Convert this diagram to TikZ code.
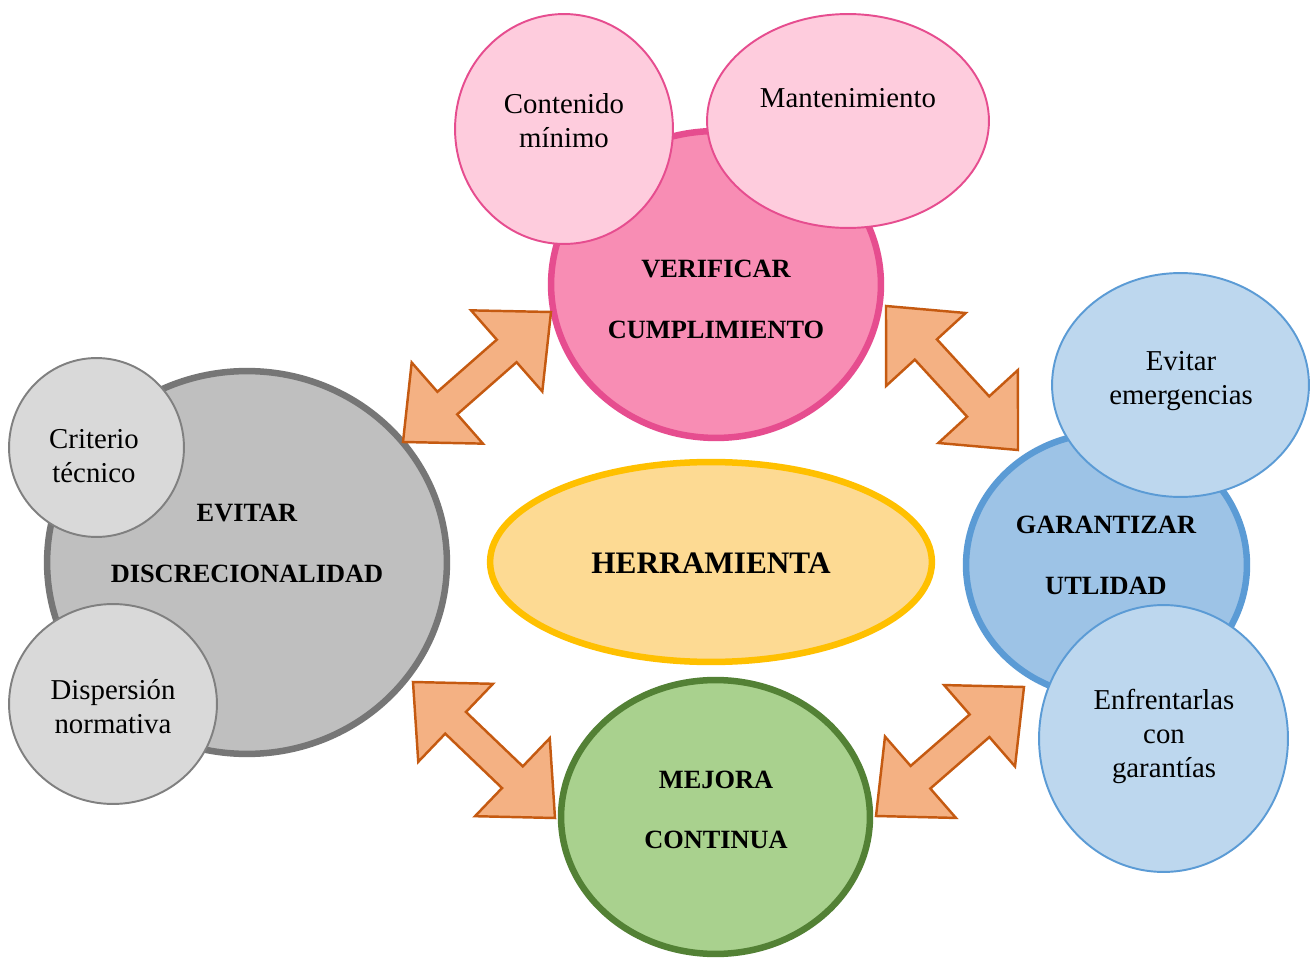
\documentclass[tikz,border=0pt]{standalone}
\usepackage{fontspec}
\setmainfont{Liberation Serif}
\usepackage{tikz}
\usetikzlibrary{shapes.geometric, calc}

\definecolor{pinkfill}{HTML}{F88DB4}
\definecolor{pinkedge}{HTML}{E64D8F}
\definecolor{pinklight}{HTML}{FECCDD}
\definecolor{grayfill}{HTML}{BFBFBF}
\definecolor{grayedge}{HTML}{767676}
\definecolor{graylight}{HTML}{D9D9D9}
\definecolor{grayline}{HTML}{808080}
\definecolor{yellowfill}{HTML}{FDDA93}
\definecolor{yellowedge}{HTML}{FFC000}
\definecolor{bluefill}{HTML}{9DC3E6}
\definecolor{blueedge}{HTML}{5B9BD5}
\definecolor{bluelight}{HTML}{BDD7EE}
\definecolor{greenfill}{HTML}{A9D18E}
\definecolor{greenedge}{HTML}{538135}
\definecolor{arrowfill}{HTML}{F4B183}
\definecolor{arrowedge}{HTML}{C55A11}

\tikzset{
  blob/.style={ellipse, inner sep=0pt, line width=3.7pt},
  bubble/.style={ellipse, inner sep=0pt, line width=1.1pt},
  radii/.style 2 args={minimum width=#1*0.04cm, minimum height=#2*0.04cm},
  mainlbl/.style={font=\fontsize{15}{34.6}\selectfont\bfseries, align=center},
  sublbl/.style={font=\fontsize{16.4}{19.3}\selectfont, align=center},
  bigarrow/.style={fill=arrowfill, draw=arrowedge, line width=1.4pt, line join=miter},
}

\begin{document}
\begin{tikzpicture}[x=0.02cm, y=-0.02cm]
    \fill[white] (0,0) rectangle (1312,959);
    \useasboundingbox (0,0) rectangle (1312,959);

    % main ideas
    \node[blob, radii={165}{153.5}, fill=pinkfill, draw=pinkedge] (verif) at (716,284.5) {};
    \node[blob, radii={200}{191.5}, fill=grayfill, draw=grayedge] (evitar) at (247,562.5) {};
    \node[blob, radii={221}{100}, fill=yellowfill, draw=yellowedge] (herr) at (711,562) {};
    \node[blob, radii={140.5}{132}, fill=bluefill, draw=blueedge] (garant) at (1106.5,565) {};
    \node[blob, radii={154.5}{137}, fill=greenfill, draw=greenedge] (mejora) at (715.5,817) {};

    \node[mainlbl] (verift) at (716,299.5) {VERIFICAR\\CUMPLIMIENTO};
    \node[mainlbl] (evitart) at (247,543.5) {EVITAR\\DISCRECIONALIDAD};
    \node[mainlbl, font=\fontsize{17.8}{20}\selectfont\bfseries] (herrt) at (711,563) {HERRAMIENTA};
    \node[mainlbl] (garantt) at (1106,555.5) {GARANTIZAR\\UTLIDAD};
    \node[mainlbl] (mejorat) at (716,810) {MEJORA\\CONTINUA};

    % double arrows
    \coordinate (a1) at (403,442);  \coordinate (b1) at (551,312);
    \coordinate (a2) at (886,306);  \coordinate (b2) at (1018,450);
    \coordinate (a3) at (413,682);  \coordinate (b3) at (555,818);
    \coordinate (a4) at (1024,687); \coordinate (b4) at (876,816);
    \foreach \a/\b in {a1/b1, a2/b2, a3/b3, a4/b4}
        \draw[bigarrow] (\a) -- ($(\a)!1.18cm!(\b)!1.08cm!90:(\b)$)
            -- ($(\a)!1.18cm!(\b)!0.3cm!90:(\b)$) -- ($(\b)!1.18cm!(\a)!0.3cm!-90:(\a)$)
            -- ($(\b)!1.18cm!(\a)!1.08cm!-90:(\a)$) -- (\b)
            -- ($(\b)!1.18cm!(\a)!1.08cm!90:(\a)$) -- ($(\b)!1.18cm!(\a)!0.3cm!90:(\a)$)
            -- ($(\a)!1.18cm!(\b)!0.3cm!-90:(\b)$) -- ($(\a)!1.18cm!(\b)!1.08cm!-90:(\b)$)
            -- cycle;

    % details
    \node[bubble, radii={109}{115}, fill=pinklight, draw=pinkedge] (cont) at (564,129) {};
    \node[bubble, radii={141}{107}, fill=pinklight, draw=pinkedge] (mant) at (848,121) {};
    \node[bubble, radii={87.5}{89.5}, fill=graylight, draw=grayline] (crit) at (96.5,447.5) {};
    \node[bubble, radii={104}{100}, fill=graylight, draw=grayline] (disp) at (113,704) {};
    \node[bubble, radii={128.5}{112}, fill=bluelight, draw=blueedge] (evem) at (1180.5,385) {};
    \node[bubble, radii={124.5}{133.5}, fill=bluelight, draw=blueedge] (enfr) at (1163.5,738.5) {};

    \node[sublbl] (contt) at (564,121) {Contenido\\mínimo};
    \node[sublbl] (mantt) at (848,98) {Mantenimiento};
    \node[sublbl] (critt) at (94,456) {Criterio\\técnico};
    \node[sublbl] (dispt) at (113,706.5) {Dispersión\\normativa};
    \node[sublbl] (evemt) at (1181,381) {Evitar\\emergencias};
    \node[sublbl] (enfrt) at (1164,736.5) {Enfrentarlas\\con\\garantías};
\end{tikzpicture}
\end{document}
